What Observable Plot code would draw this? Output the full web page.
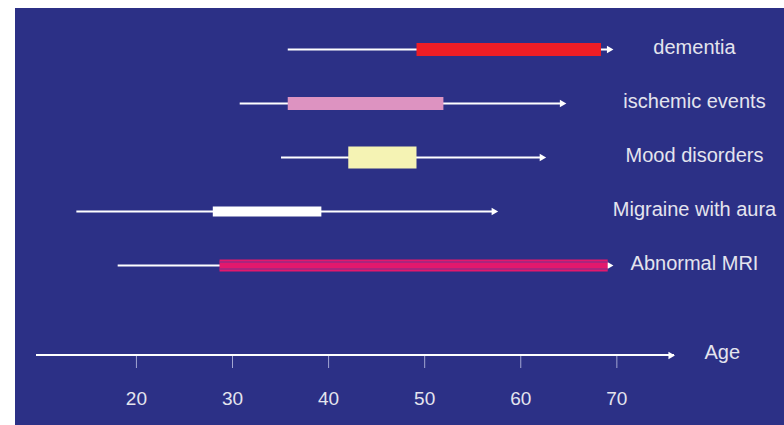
<!DOCTYPE html>
<html>
<head>
<meta charset="utf-8">
<script src="https://cdn.jsdelivr.net/npm/d3@7"></script>
<script src="https://cdn.jsdelivr.net/npm/@observablehq/plot@0.6"></script>
<style>
  html, body { margin: 0; padding: 0; background: #ffffff; }
  #chart { padding-left: 15px; padding-top: 8px; width: 769px; height: 417px; }
  #chart svg { display: block; }
</style>
</head>
<body>
<div id="chart"></div>
<script>
// ---- data ----
const categories = ["dementia", "ischemic events", "Mood disorders", "Migraine with aura", "Abnormal MRI"];
const lineStart  = [35.8, 30.8, 35.1, 13.8, 18.1];   // age where the thin line begins
const barStart   = [49.2, 35.8, 42.1, 28.0, 28.7];   // age where the thick bar begins
const barEnd     = [68.4, 52.0, 49.2, 39.3, 69.1];   // age where the thick bar ends
const arrowEnd   = [69.6, 64.7, 62.6, 57.6, 69.6];   // age at the arrow tip
const ageTicks   = [20, 30, 40, 50, 60, 70];
const axisStart  = 9.6;
const axisEnd    = 76;
const axisLabel  = "Age";

// ---- styles (kept apart from the data) ----
const barColor  = {"dementia": "#ee1d25", "ischemic events": "#dd93c1", "Mood disorders": "#f5f3b4", "Migraine with aura": "#ffffff", "Abnormal MRI": "#e3186d"};
const barHeight = {"dementia": 13, "ischemic events": 13, "Mood disorders": 22, "Migraine with aura": 10, "Abnormal MRI": 12};

const rows = categories.map((c, i) => ({
  cat: c, lineStart: lineStart[i], barStart: barStart[i], barEnd: barEnd[i], arrowEnd: arrowEnd[i]
}));
const mri = rows.filter(d => d.cat === "Abnormal MRI");

const W = 769, H = 417, mTop = 0, mBottom = 69;
const bg = "#2c3086";
const textColor = "#e4e4ee";
const font = "Liberation Sans, Arial, Helvetica, sans-serif";

const chart = Plot.plot({
  width: W,
  height: H,
  marginLeft: 21,
  marginRight: 110,
  marginTop: mTop,
  marginBottom: mBottom,
  style: {background: bg, fontFamily: font, overflow: "visible"},
  x: {domain: [axisStart, axisEnd]},
  y: {type: "point", domain: categories, range: [39, 258], padding: 0, axis: null},
  marks: [
    // age axis line + arrowhead
    Plot.barX([0], {x1: () => axisStart, x2: () => axisEnd, insetTop: H - mTop - mBottom - 2, fill: "white"}),
    Plot.dot([0], {x: () => axisEnd, frameAnchor: "bottom", dy: -1, dx: -3.9, symbol: "triangle", rotate: 90, r: 2.8, fill: "white"}),
    Plot.axisX({ticks: ageTicks, tickSize: 12, tickPadding: 23, stroke: "#a3a6d2", fill: textColor, fontSize: 19, label: null, tickFormat: d => String(d)}),
    Plot.text([axisLabel], {frameAnchor: "bottom-right", dx: 30, dy: -4, text: d => d, textAnchor: "start", lineAnchor: "middle", fill: textColor, fontSize: 20}),

    // thin range lines with arrowheads
    Plot.ruleY(rows, {y: "cat", x1: "lineStart", x2: d => d.arrowEnd - 0.3, stroke: "white", strokeWidth: 2}),
    Plot.dot(rows, {y: "cat", x: "arrowEnd", dx: -3.9, symbol: "triangle", rotate: 90, r: 2.8, fill: "white"}),

    // thick bars
    Plot.ruleY(rows, {y: "cat", x1: "barStart", x2: "barEnd", stroke: d => barColor[d.cat], strokeWidth: d => barHeight[d.cat]}),
    // stripes on the Abnormal MRI bar
    Plot.ruleY(mri, {y: "cat", x1: "barStart", x2: "barEnd", dy: -3.5, stroke: "#9a2983", strokeWidth: 1.5}),
    Plot.ruleY(mri, {y: "cat", x1: "barStart", x2: "barEnd", dy: 3.5, stroke: "#9a2983", strokeWidth: 1.5}),

    // row labels
    Plot.text(rows, {y: "cat", text: "cat", frameAnchor: "right", dx: 20, dy: -2, textAnchor: "middle", lineAnchor: "middle", fill: textColor, fontSize: 20})
  ]
});

document.getElementById("chart").appendChild(chart);
</script>
</body>
</html>
